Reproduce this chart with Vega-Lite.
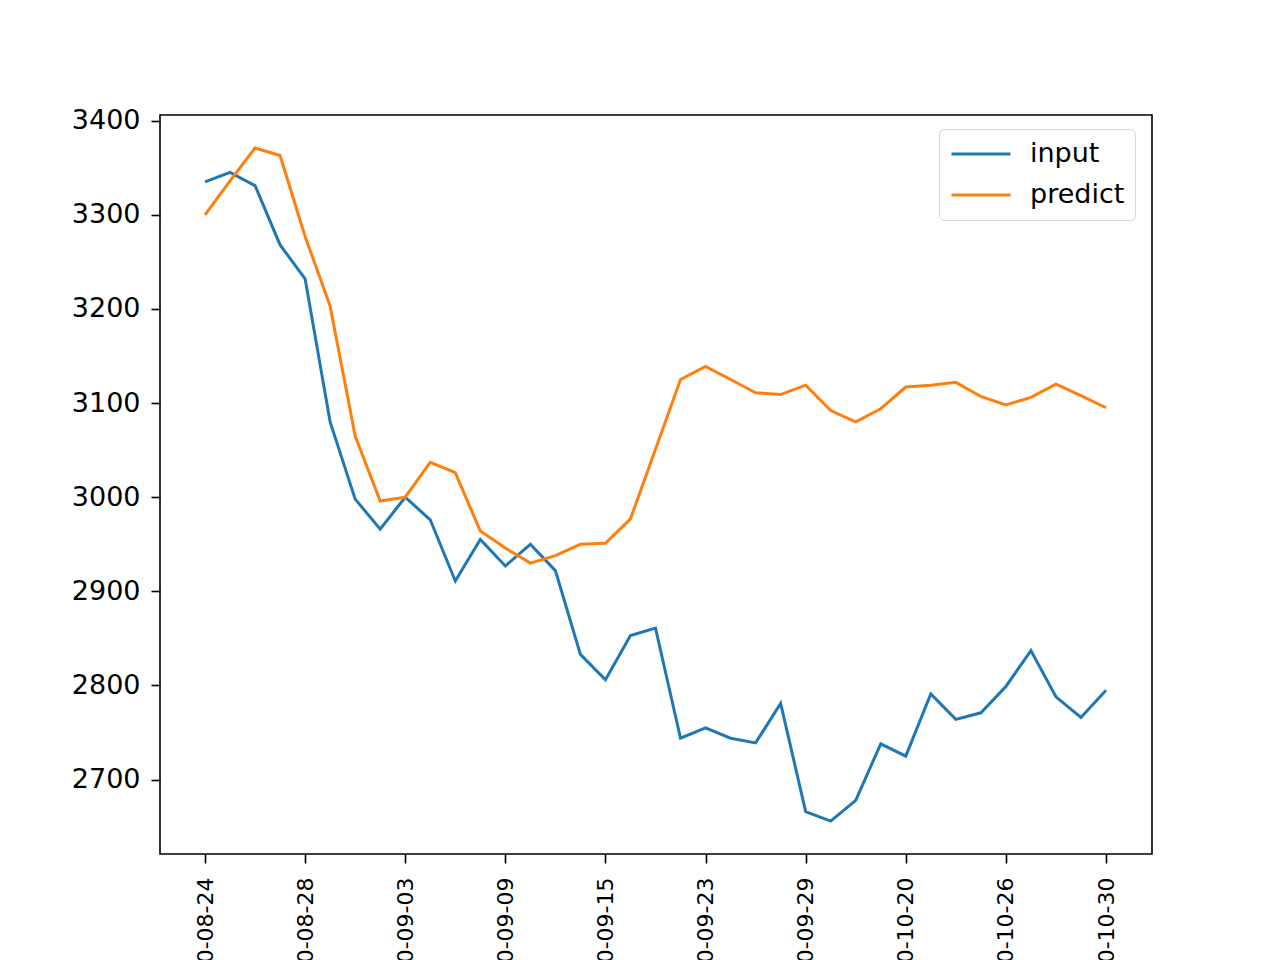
{
  "$schema": "https://vega.github.io/schema/vega-lite/v6.json",
  "width": 992,
  "height": 739,
  "autosize": {"type": "none"},
  "padding": {"left": 160, "top": 115, "right": 128, "bottom": 106},
  "background": "white",
  "config": {"view": {"stroke": "black", "strokeWidth": 1.6}, "font": "DejaVu Sans"},
  "data": {"values": [
    {"date": "2020-08-24", "series": "input", "value": 3335},
    {"date": "2020-08-25", "series": "input", "value": 3345},
    {"date": "2020-08-26", "series": "input", "value": 3331},
    {"date": "2020-08-27", "series": "input", "value": 3268},
    {"date": "2020-08-28", "series": "input", "value": 3232},
    {"date": "2020-08-31", "series": "input", "value": 3080},
    {"date": "2020-09-01", "series": "input", "value": 2998},
    {"date": "2020-09-02", "series": "input", "value": 2966},
    {"date": "2020-09-03", "series": "input", "value": 3000},
    {"date": "2020-09-04", "series": "input", "value": 2976},
    {"date": "2020-09-07", "series": "input", "value": 2911},
    {"date": "2020-09-08", "series": "input", "value": 2955},
    {"date": "2020-09-09", "series": "input", "value": 2927},
    {"date": "2020-09-10", "series": "input", "value": 2950},
    {"date": "2020-09-11", "series": "input", "value": 2922},
    {"date": "2020-09-14", "series": "input", "value": 2833},
    {"date": "2020-09-15", "series": "input", "value": 2806},
    {"date": "2020-09-16", "series": "input", "value": 2853},
    {"date": "2020-09-17", "series": "input", "value": 2861},
    {"date": "2020-09-22", "series": "input", "value": 2744},
    {"date": "2020-09-23", "series": "input", "value": 2755},
    {"date": "2020-09-24", "series": "input", "value": 2744},
    {"date": "2020-09-25", "series": "input", "value": 2739},
    {"date": "2020-09-28", "series": "input", "value": 2781},
    {"date": "2020-09-29", "series": "input", "value": 2666},
    {"date": "2020-09-30", "series": "input", "value": 2656},
    {"date": "2020-10-12", "series": "input", "value": 2678},
    {"date": "2020-10-16", "series": "input", "value": 2738},
    {"date": "2020-10-20", "series": "input", "value": 2725},
    {"date": "2020-10-21", "series": "input", "value": 2791},
    {"date": "2020-10-22", "series": "input", "value": 2764},
    {"date": "2020-10-23", "series": "input", "value": 2771},
    {"date": "2020-10-26", "series": "input", "value": 2799},
    {"date": "2020-10-27", "series": "input", "value": 2837},
    {"date": "2020-10-28", "series": "input", "value": 2788},
    {"date": "2020-10-29", "series": "input", "value": 2766},
    {"date": "2020-10-30", "series": "input", "value": 2795},
    {"date": "2020-08-24", "series": "predict", "value": 3300},
    {"date": "2020-08-25", "series": "predict", "value": 3336},
    {"date": "2020-08-26", "series": "predict", "value": 3371},
    {"date": "2020-08-27", "series": "predict", "value": 3363},
    {"date": "2020-08-28", "series": "predict", "value": 3277},
    {"date": "2020-08-31", "series": "predict", "value": 3203},
    {"date": "2020-09-01", "series": "predict", "value": 3065},
    {"date": "2020-09-02", "series": "predict", "value": 2996},
    {"date": "2020-09-03", "series": "predict", "value": 3000},
    {"date": "2020-09-04", "series": "predict", "value": 3037},
    {"date": "2020-09-07", "series": "predict", "value": 3026},
    {"date": "2020-09-08", "series": "predict", "value": 2964},
    {"date": "2020-09-09", "series": "predict", "value": 2946},
    {"date": "2020-09-10", "series": "predict", "value": 2930},
    {"date": "2020-09-11", "series": "predict", "value": 2938},
    {"date": "2020-09-14", "series": "predict", "value": 2950},
    {"date": "2020-09-15", "series": "predict", "value": 2951},
    {"date": "2020-09-16", "series": "predict", "value": 2977},
    {"date": "2020-09-17", "series": "predict", "value": 3051},
    {"date": "2020-09-22", "series": "predict", "value": 3125},
    {"date": "2020-09-23", "series": "predict", "value": 3139},
    {"date": "2020-09-24", "series": "predict", "value": 3125},
    {"date": "2020-09-25", "series": "predict", "value": 3111},
    {"date": "2020-09-28", "series": "predict", "value": 3109},
    {"date": "2020-09-29", "series": "predict", "value": 3119},
    {"date": "2020-09-30", "series": "predict", "value": 3092},
    {"date": "2020-10-12", "series": "predict", "value": 3080},
    {"date": "2020-10-16", "series": "predict", "value": 3094},
    {"date": "2020-10-20", "series": "predict", "value": 3117},
    {"date": "2020-10-21", "series": "predict", "value": 3119},
    {"date": "2020-10-22", "series": "predict", "value": 3122},
    {"date": "2020-10-23", "series": "predict", "value": 3107},
    {"date": "2020-10-26", "series": "predict", "value": 3098},
    {"date": "2020-10-27", "series": "predict", "value": 3106},
    {"date": "2020-10-28", "series": "predict", "value": 3120},
    {"date": "2020-10-29", "series": "predict", "value": 3108},
    {"date": "2020-10-30", "series": "predict", "value": 3095}
  ]},
  "mark": {"type": "line", "strokeWidth": 3},
  "encoding": {
    "x": {
      "field": "date", "type": "ordinal", "sort": null,
      "scale": {"type": "point", "padding": 0, "range": [45, 946]},
      "axis": {
        "values": ["2020-08-24", "2020-08-28", "2020-09-03", "2020-09-09", "2020-09-15", "2020-09-23", "2020-09-29", "2020-10-20", "2020-10-26", "2020-10-30"],
        "labelAngle": 270, "title": null, "labelFontSize": 22, "labelColor": "black",
        "tickSize": 9, "tickColor": "black", "tickWidth": 1.6, "domain": false, "grid": false,
        "labelPadding": 14, "labelFont": "DejaVu Sans"
      }
    },
    "y": {
      "field": "value", "type": "quantitative",
      "scale": {"domain": [2621, 3406], "nice": false, "zero": false},
      "axis": {
        "values": [2700, 2800, 2900, 3000, 3100, 3200, 3300, 3400], "format": "d",
        "title": null, "grid": false, "domain": false, "labelFontSize": 27, "labelColor": "black",
        "tickSize": 9, "tickColor": "black", "tickWidth": 1.6, "labelPadding": 11, "labelFont": "DejaVu Sans"
      }
    },
    "color": {
      "field": "series", "type": "nominal",
      "scale": {"domain": ["input", "predict"], "range": ["#1f77b4", "#ff7f0e"]},
      "legend": {
        "orient": "none", "legendX": 779, "legendY": 14, "title": null,
        "symbolType": "stroke", "symbolSize": 3481, "symbolStrokeWidth": 3, "symbolOffset": 1,
        "labelFontSize": 27, "labelColor": "black", "labelFont": "DejaVu Sans",
        "labelExpr": "datum.label + '\u2009'",
        "fillColor": "white", "strokeColor": "#d6d6d6", "cornerRadius": 5,
        "padding": 10, "labelOffset": 18, "rowPadding": 11, "clipHeight": 30
      }
    }
  }
}
